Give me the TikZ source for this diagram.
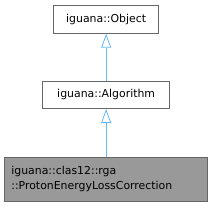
\documentclass[tikz,border=0pt]{standalone}
\usepackage{fontspec}
\setmainfont{DejaVu Sans}
\usetikzlibrary{arrows.meta}
\definecolor{edgeblue}{HTML}{63B8FF}
\definecolor{boxline}{HTML}{666666}
\definecolor{greyfill}{HTML}{999999}
\begin{document}
\begin{tikzpicture}[x=1pt,y=1pt,
  cls/.style={draw=boxline, line width=0.7pt, fill=white, font=\fontsize{10.9}{15.5}\selectfont, text=black, inner sep=0pt, anchor=north west},
  inh/.style={draw=edgeblue, line width=0.8pt, -{Triangle[open, length=14pt, width=10pt]}}]
\useasboundingbox (0,0) rectangle (212,-207);
\node[cls, minimum width=105pt, minimum height=28.3pt] (obj) at (53.3,-4.7) {iguana::Object};
\node[cls, minimum width=127pt, minimum height=27.6pt] (alg) at (42.3,-80.7) {iguana::Algorithm};
\node[cls, fill=greyfill, minimum width=203pt, minimum height=44.3pt, align=left, text width=189.6pt, inner xsep=6.7pt] (pel) at (4.3,-156.7) {iguana::clas12::rga\\::ProtonEnergyLossCorrection};
\draw[inh] (alg.north -| obj.south) -- (obj.south);
\draw[inh] (pel.north -| alg.south) -- (alg.south);
\end{tikzpicture}
\end{document}
